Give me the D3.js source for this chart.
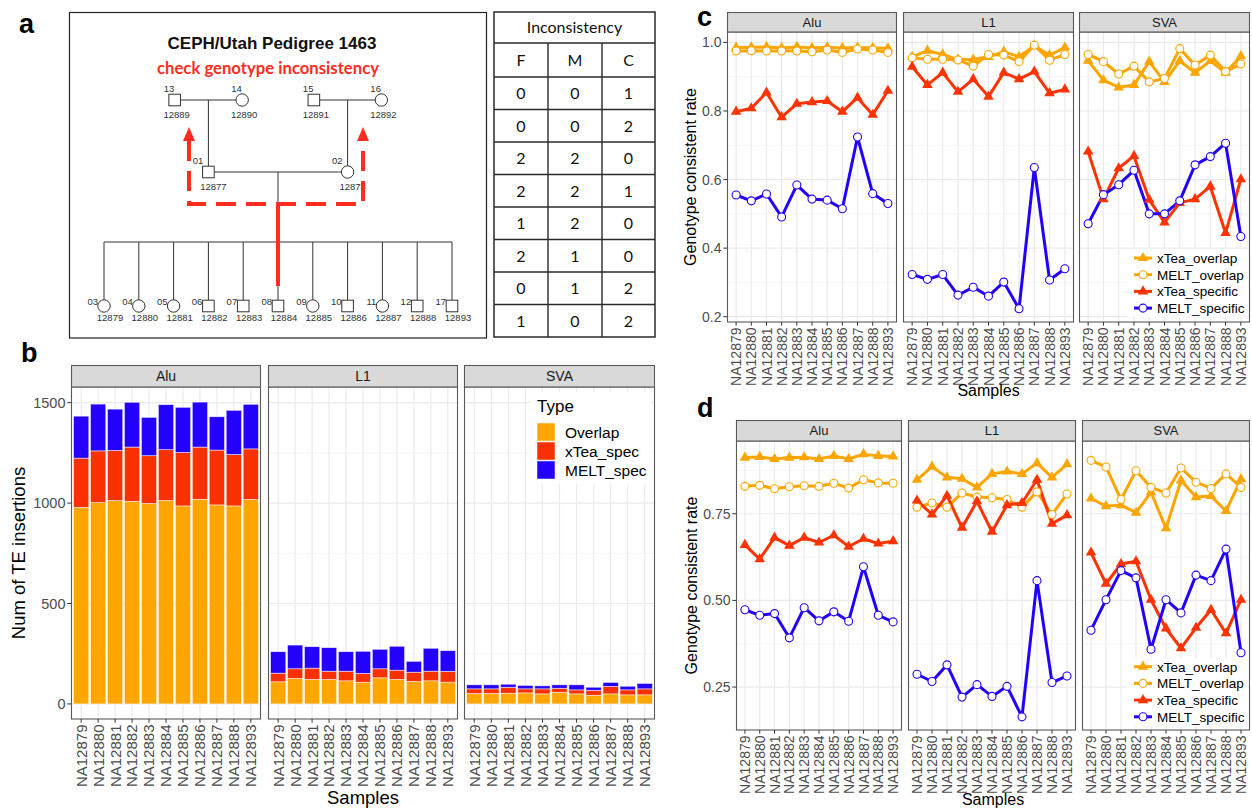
<!DOCTYPE html>
<html><head><meta charset="utf-8">
<script src="https://cdn.jsdelivr.net/npm/d3@7"></script>
<style>body{margin:0;background:#fff}svg{display:block}</style>
</head><body>
<script>
// ================= DATA =================
const samples = ["NA12879","NA12880","NA12881","NA12882","NA12883","NA12884","NA12885","NA12886","NA12887","NA12888","NA12893"];
const teTypes = ["Alu","L1","SVA"];
const countTypes = ["Overlap","xTea_spec","MELT_spec"];
const rateSeries = ["xTea_overlap","MELT_overlap","xTea_specific","MELT_specific"];
const countTicks = [0,500,1000,1500];
const rateTicksC = [0.2,0.4,0.6,0.8,1.0];
const rateTicksD = [0.25,0.50,0.75];

// panel b: number of TE insertions
const aluOverlap  = [979,1003,1013,1009,998,1013,986,1019,991,986,1018];
const aluXteaSpec = [245,257,249,270,238,253,266,260,273,256,252];
const aluMeltSpec = [209,233,206,223,191,224,225,224,166,220,222];
const l1Overlap   = [110,127,122,122,115,108,130,122,112,115,108];
const l1XteaSpec  = [43,48,56,41,48,44,45,46,46,48,54];
const l1MeltSpec  = [107,118,107,117,97,110,97,119,54,114,103];
const svaOverlap  = [52,52,53,55,50,58,50,43,50,45,45];
const svaXteaSpec = [23,23,30,20,25,20,20,25,37,25,30];
const svaMeltSpec = [20,20,15,17,15,17,25,15,20,18,27];

// panel c: genotype consistent rate
const cAluXteaOverlap = [0.985,0.986,0.987,0.984,0.987,0.984,0.986,0.984,0.985,0.984,0.983];
const cAluMeltOverlap = [0.975,0.976,0.975,0.975,0.975,0.973,0.978,0.971,0.981,0.978,0.971];
const cAluXteaSpecific = [0.798,0.808,0.854,0.782,0.821,0.826,0.829,0.798,0.839,0.789,0.859];
const cAluMeltSpecific = [0.555,0.538,0.558,0.491,0.584,0.543,0.540,0.515,0.724,0.559,0.530];
const cL1XteaOverlap = [0.958,0.976,0.965,0.950,0.950,0.958,0.973,0.958,0.990,0.963,0.985];
const cL1MeltOverlap = [0.955,0.951,0.951,0.949,0.931,0.965,0.963,0.944,0.992,0.948,0.965];
const cL1XteaSpecific = [0.929,0.876,0.912,0.856,0.893,0.842,0.912,0.893,0.915,0.852,0.863];
const cL1MeltSpecific = [0.323,0.309,0.323,0.263,0.286,0.260,0.301,0.223,0.635,0.307,0.340];
const cSvaXteaOverlap = [0.947,0.890,0.869,0.876,0.944,0.885,0.946,0.912,0.946,0.912,0.960];
const cSvaMeltOverlap = [0.965,0.944,0.908,0.931,0.885,0.895,0.982,0.934,0.963,0.915,0.937];
const cSvaXteaSpecific = [0.682,0.543,0.633,0.669,0.541,0.475,0.532,0.543,0.580,0.444,0.601];
const cSvaMeltSpecific = [0.471,0.556,0.585,0.627,0.500,0.500,0.538,0.643,0.667,0.706,0.434];

// panel d: genotype consistent rate
const dAluXteaOverlap = [0.912,0.914,0.908,0.912,0.913,0.908,0.917,0.908,0.922,0.917,0.915];
const dAluMeltOverlap = [0.829,0.832,0.822,0.828,0.831,0.829,0.838,0.824,0.848,0.839,0.838];
const dAluXteaSpecific = [0.660,0.619,0.681,0.658,0.681,0.667,0.688,0.655,0.678,0.664,0.671];
const dAluMeltSpecific = [0.473,0.457,0.462,0.392,0.479,0.441,0.467,0.440,0.597,0.457,0.438];
const dL1XteaOverlap = [0.848,0.886,0.855,0.851,0.826,0.865,0.872,0.865,0.896,0.855,0.893];
const dL1MeltOverlap = [0.769,0.781,0.769,0.810,0.798,0.796,0.791,0.769,0.813,0.748,0.807];
const dL1XteaSpecific = [0.788,0.748,0.802,0.710,0.786,0.698,0.775,0.781,0.848,0.721,0.746];
const dL1MeltSpecific = [0.287,0.266,0.314,0.221,0.257,0.223,0.252,0.164,0.557,0.263,0.282];
const dSvaXteaOverlap = [0.794,0.772,0.775,0.753,0.812,0.708,0.846,0.798,0.801,0.758,0.850];
const dSvaMeltOverlap = [0.904,0.885,0.791,0.874,0.826,0.810,0.882,0.841,0.823,0.865,0.826];
const dSvaXteaSpecific = [0.638,0.548,0.605,0.613,0.502,0.419,0.362,0.421,0.473,0.405,0.502];
const dSvaMeltSpecific = [0.414,0.502,0.586,0.565,0.359,0.502,0.464,0.573,0.557,0.648,0.349];

// panel a: pedigree and inconsistency table
const pedigreeTitle = "CEPH/Utah Pedigree 1463";
const pedigreeNote = "check genotype inconsistency";
const fatherSide = {ids:["13","14"], samples:["12889","12890"], sex:["M","F"]};
const motherSide = {ids:["15","16"], samples:["12891","12892"], sex:["M","F"]};
const parentIds = ["01","02"];
const parentSamples = ["12877","12878"];
const parentSex = ["M","F"];
const childIds = ["03","04","05","06","07","08","09","10","11","12","17"];
const childSamples = ["12879","12880","12881","12882","12883","12884","12885","12886","12887","12888","12893"];
const childSex = ["F","F","F","M","M","M","F","M","F","M","M"];
const tableTitle = "Inconsistency";
const tableCols = ["F","M","C"];
const tableF = [0,0,2,2,1,2,0,1];
const tableM = [0,0,2,2,2,1,1,0];
const tableC = [1,2,0,1,0,0,2,2];

// ================= SETUP =================
const W = 1252, H = 808;
const SANS = "'Liberation Sans', Arial, Helvetica, sans-serif";
const CAL = "Lato, 'Open Sans', sans-serif";
const svg = d3.select("body").append("svg").attr("width", W).attr("height", H)
  .attr("font-family", SANS);
svg.append("rect").attr("width", W).attr("height", H).attr("fill", "#fff");

const ORANGE = "#FFA500", RED = "#FF3300", BLUE = "#2200FF";
const countColor = d3.scaleOrdinal().domain(countTypes).range([ORANGE, "#F93100", "#2300FF"]);
const rateColor = d3.scaleOrdinal().domain(rateSeries).range([ORANGE, ORANGE, RED, BLUE]);
const rateShape = d3.scaleOrdinal().domain(rateSeries).range(["tri","circ","tri","circ"]);

// panel letters
[["a",19,33],["b",21,362],["c",697,26],["d",697,417]].forEach(([t,x,y]) =>
  svg.append("text").attr("x",x).attr("y",y).attr("font-size",27).attr("font-weight","bold").attr("fill","#000").text(t));

// ================= PANEL a =================
const ga = svg.append("g");
ga.append("rect").attr("x",69.5).attr("y",12.5).attr("width",417).attr("height",325.5)
  .attr("fill","none").attr("stroke","#222").attr("stroke-width",1.2);
ga.append("text").attr("x",272).attr("y",48.5).attr("text-anchor","middle")
  .attr("font-size",17).attr("font-weight","bold").attr("fill","#111").text(pedigreeTitle);
ga.append("text").attr("x",268).attr("y",74).attr("text-anchor","middle")
  .attr("font-family",CAL).attr("font-size",17).attr("font-weight","bold").attr("fill","#FF2D20")
  .attr("textLength",222).attr("lengthAdjust","spacingAndGlyphs").text(pedigreeNote);

const pedX = d3.scaleLinear().domain([0, childIds.length - 1]).range([104, 452]);
const pedY = d3.scaleOrdinal().domain([0,1,2]).range([100,172,306]);
const parentUnit = [3, 7];
const founderSpread = 0.97;
const LN = "#333";
function pline(x1,y1,x2,y2){ ga.append("line").attr("x1",x1).attr("y1",y1).attr("x2",x2).attr("y2",y2).attr("stroke",LN).attr("stroke-width",1); }
function psym(x,y,sex){
  if (sex === "M") ga.append("rect").attr("x",x-5.8).attr("y",y-5.8).attr("width",11.6).attr("height",11.6).attr("fill","#fff").attr("stroke",LN).attr("stroke-width",1);
  else ga.append("circle").attr("cx",x).attr("cy",y).attr("r",6.2).attr("fill","#fff").attr("stroke",LN).attr("stroke-width",1);
}
function plabel(x,y,t,anchor){ ga.append("text").attr("x",x).attr("y",y).attr("text-anchor",anchor).attr("font-size",9.5).attr("fill","#333").text(t); }

// founders
const founderGroups = [fatherSide, motherSide];
const founderNodes = [];
founderGroups.forEach((fg, k) => {
  const u = parentUnit[k];
  const xs = [pedX(u - founderSpread), pedX(u + founderSpread)];
  const y = pedY(0);
  pline(xs[0], y, xs[1], y);
  pline(pedX(u), y, pedX(u), pedY(1));
  fg.ids.forEach((id, j) => founderNodes.push({x: xs[j], y, id, sample: fg.samples[j], sex: fg.sex[j]}));
});
// parents
const pxs = parentUnit.map(u => pedX(u));
pline(pxs[0], pedY(1), pxs[1], pedY(1));
const sibY = 242;
const midP = (pxs[0] + pxs[1]) / 2;
pline(midP, pedY(1), midP, sibY);
pline(pedX(0), sibY, pedX(childIds.length - 1), sibY);
childIds.forEach((id, i) => pline(pedX(i), sibY, pedX(i), pedY(2) - 6));

founderNodes.forEach(n => { psym(n.x, n.y, n.sex); plabel(n.x - 11, n.y - 8, n.id, "start"); plabel(n.x + 2, n.y + 18, n.sample, "middle"); });
parentIds.forEach((id, j) => { const x = pxs[j], y = pedY(1); psym(x, y, parentSex[j]); plabel(x - 5, y - 8, id, "end"); plabel(x + 5, y + 18, parentSamples[j], "middle"); });
childIds.forEach((id, i) => { const x = pedX(i), y = pedY(2); psym(x, y, childSex[i]); plabel(x - 6, y - 1, id, "end"); plabel(x + 6, y + 15, childSamples[i], "middle"); });

// red consistency-check paths
const RC = "#FF2D20";
const lx = 189, rx = 363, hy = 204;
ga.append("path").attr("d", `M${lx},141 L${lx},${hy} L${rx},${hy} L${rx},141`)
  .attr("fill","none").attr("stroke",RC).attr("stroke-width",4).attr("stroke-dasharray","20 10");
ga.append("line").attr("x1",midP).attr("y1",hy).attr("x2",midP).attr("y2",286).attr("stroke",RC).attr("stroke-width",4);
[lx, rx].forEach(x => ga.append("path").attr("d", `M${x},127 L${x-6},141 L${x+6},141 Z`).attr("fill",RC));

// table
const gt = svg.append("g");
const tx0 = 494, tx1 = 655, colX = [494, 548, 602, 655];
const rowY = d3.range(tableF.length + 3).map(i => i === 0 ? 12 : (i === 1 ? 43 : 77 + (i - 2) * 32.5));
const tStroke = "#2a2a2a";
gt.append("rect").attr("x",tx0).attr("y",12).attr("width",tx1-tx0).attr("height",337-12).attr("fill","none").attr("stroke",tStroke).attr("stroke-width",1.5);
rowY.slice(1, -1).forEach(y => gt.append("line").attr("x1",tx0).attr("x2",tx1).attr("y1",y).attr("y2",y).attr("stroke",tStroke).attr("stroke-width",1.4));
[colX[1], colX[2]].forEach(x => gt.append("line").attr("x1",x).attr("x2",x).attr("y1",43).attr("y2",337).attr("stroke",tStroke).attr("stroke-width",1.4));
function ttext(x,y,t){ gt.append("text").attr("x",x).attr("y",y).attr("text-anchor","middle").attr("font-family",CAL).attr("font-size",16).attr("fill","#111").text(t); }
ttext((tx0+tx1)/2, 33, tableTitle);
const colC = [0,1,2].map(j => (colX[j] + colX[j+1]) / 2);
tableCols.forEach((c, j) => ttext(colC[j], 66, c));
[tableF, tableM, tableC].forEach((col, j) => col.forEach((v, i) => ttext(colC[j], (rowY[i+2] + rowY[i+3]) / 2 + 6, v)));

// ================= ggplot-like facet helpers =================
function minorBreaks(breaks) {
  const step = breaks[1] - breaks[0];
  const out = [];
  for (let i = -1; i < breaks.length; i++) out.push(breaks[0] + (i + 0.5) * step);
  return out;
}
function facet(P) {
  const g = svg.append("g");
  const dom = P.y.domain();
  const inDom = v => v >= Math.min(...dom) && v <= Math.max(...dom);
  P.panels.forEach(p => {
    p.x = d3.scaleLinear().domain([0.4, samples.length + 0.6]).range([p.x0, p.x1]);
    g.append("rect").attr("x",p.x0).attr("y",P.y0).attr("width",p.x1-p.x0).attr("height",P.y1-P.y0).attr("fill","#fff");
    minorBreaks(P.breaks).filter(inDom).forEach(v => g.append("line").attr("x1",p.x0).attr("x2",p.x1).attr("y1",P.y(v)).attr("y2",P.y(v)).attr("stroke","#F2F2F2").attr("stroke-width",0.7));
    P.breaks.filter(inDom).forEach(v => g.append("line").attr("x1",p.x0).attr("x2",p.x1).attr("y1",P.y(v)).attr("y2",P.y(v)).attr("stroke","#EBEBEB").attr("stroke-width",1.2));
    samples.forEach((s, i) => g.append("line").attr("x1",p.x(i+1)).attr("x2",p.x(i+1)).attr("y1",P.y0).attr("y2",P.y1).attr("stroke","#EBEBEB").attr("stroke-width",1.2));
  });
  return g;
}
function facetFrame(P) {
  const g = svg.append("g");
  const dom = P.y.domain();
  const inDom = v => v >= Math.min(...dom) && v <= Math.max(...dom);
  P.panels.forEach((p, k) => {
    g.append("rect").attr("x",p.x0+0.5).attr("y",P.y0).attr("width",p.x1-p.x0-1).attr("height",P.y1-P.y0).attr("fill","none").attr("stroke","#595959").attr("stroke-width",1.1);
    g.append("rect").attr("x",p.x0+0.5).attr("y",P.stripTop+0.5).attr("width",p.x1-p.x0-1).attr("height",P.y0-P.stripTop-0.5).attr("fill","#D9D9D9").attr("stroke","#595959").attr("stroke-width",1.1);
    g.append("text").attr("x",(p.x0+p.x1)/2).attr("y",(P.stripTop+P.y0)/2).attr("dy","0.36em").attr("text-anchor","middle")
      .attr("font-size",P.stripFont).attr("fill","#1A1A1A").text(p.name);
    samples.forEach((s, i) => {
      const x = p.x(i+1);
      g.append("line").attr("x1",x).attr("x2",x).attr("y1",P.y1).attr("y2",P.y1+3.7).attr("stroke","#333").attr("stroke-width",1);
      g.append("text").attr("transform",`translate(${x},${P.y1+5.5}) rotate(-90)`).attr("text-anchor","end").attr("dy","0.36em")
        .attr("font-size",P.xFont).attr("fill","#4D4D4D").text(s);
    });
    if (k === 0) {
      P.breaks.filter(inDom).forEach(v => {
        g.append("line").attr("x1",p.x0-3.7).attr("x2",p.x0).attr("y1",P.y(v)).attr("y2",P.y(v)).attr("stroke","#333").attr("stroke-width",1);
        g.append("text").attr("x",p.x0-5.5).attr("y",P.y(v)).attr("dy","0.36em").attr("text-anchor","end")
          .attr("font-size",P.yFont).attr("fill","#4D4D4D").text(P.fmt(v));
      });
    }
  });
  const first = P.panels[0], last = P.panels[P.panels.length-1];
  g.append("text").attr("transform",`translate(${P.yTitleX},${(P.y0+P.y1)/2}) rotate(-90)`).attr("text-anchor","middle")
    .attr("font-size",P.titleFont).attr("fill","#000").text(P.yTitle);
  g.append("text").attr("x",(first.x0+last.x1)/2).attr("y",P.xTitleY).attr("text-anchor","middle")
    .attr("font-size",P.titleFont).attr("fill","#000").text("Samples");
}

// ================= PANEL b =================
const countTable = {
  Alu: {Overlap: aluOverlap, xTea_spec: aluXteaSpec, MELT_spec: aluMeltSpec},
  L1:  {Overlap: l1Overlap,  xTea_spec: l1XteaSpec,  MELT_spec: l1MeltSpec},
  SVA: {Overlap: svaOverlap, xTea_spec: svaXteaSpec, MELT_spec: svaMeltSpec}
};
const stacks = {};
teTypes.forEach(t => {
  const rows = samples.map((s, i) => { const r = {sample: s}; countTypes.forEach(c => r[c] = countTable[t][c][i]); return r; });
  stacks[t] = d3.stack().keys(countTypes)(rows);
});
const maxCount = d3.max(teTypes, t => d3.max(stacks[t][countTypes.length-1], d => d[1]));
const yb = d3.scaleLinear().domain([-0.05 * maxCount, maxCount * 1.05]).range([719, 387]);
const Pb = {panels: [{name:"Alu",x0:71,x1:261},{name:"L1",x0:268,x1:458},{name:"SVA",x0:464,x1:655}],
  y0:387, y1:719, stripTop:365, y:yb, breaks:countTicks, fmt:d3.format("d"),
  xFont:15, yFont:14.5, stripFont:14, titleFont:18.5, yTitle:"Num of TE insertions", yTitleX:25, xTitleY:804};
const gb = facet(Pb);
Pb.panels.forEach(p => {
  stacks[p.name].forEach(layer => {
    gb.append("g").selectAll("rect").data(layer).join("rect")
      .attr("x", (d, i) => p.x(i + 1 - 0.45)).attr("width", p.x(1.45) - p.x(0.55))
      .attr("y", d => yb(d[1])).attr("height", d => yb(d[0]) - yb(d[1]))
      .attr("fill", countColor(layer.key)).attr("stroke","#fff").attr("stroke-width",0.7).attr("stroke-opacity",0.7);
  });
});
// legend b
const lgB = svg.append("g");
lgB.append("rect").attr("x",531).attr("y",392).attr("width",120).attr("height",92).attr("fill","#fff");
lgB.append("text").attr("x",537).attr("y",412).attr("font-size",17).attr("fill","#000").text("Type");
countTypes.forEach((c, i) => {
  const y = 423 + i * 19;
  lgB.append("rect").attr("x",537).attr("y",y).attr("width",18).attr("height",18).attr("fill",countColor(c)).attr("stroke","#fff").attr("stroke-width",0.7).attr("stroke-opacity",0.7);
  lgB.append("text").attr("x",565).attr("y",y+9).attr("dy","0.36em").attr("font-size",15.5).attr("fill","#000").text(c);
});
facetFrame(Pb);

// ================= PANELS c and d =================
function rateTable(arrs) { const o = {}; rateSeries.forEach((s, i) => o[s] = arrs[i]); return o; }
const rateC = {
  Alu: rateTable([cAluXteaOverlap, cAluMeltOverlap, cAluXteaSpecific, cAluMeltSpecific]),
  L1:  rateTable([cL1XteaOverlap, cL1MeltOverlap, cL1XteaSpecific, cL1MeltSpecific]),
  SVA: rateTable([cSvaXteaOverlap, cSvaMeltOverlap, cSvaXteaSpecific, cSvaMeltSpecific])
};
const rateD = {
  Alu: rateTable([dAluXteaOverlap, dAluMeltOverlap, dAluXteaSpecific, dAluMeltSpecific]),
  L1:  rateTable([dL1XteaOverlap, dL1MeltOverlap, dL1XteaSpecific, dL1MeltSpecific]),
  SVA: rateTable([dSvaXteaOverlap, dSvaMeltOverlap, dSvaXteaSpecific, dSvaMeltSpecific])
};
function expandDomain(tbl) {
  const all = teTypes.flatMap(t => rateSeries.flatMap(s => tbl[t][s]));
  const lo = d3.min(all), hi = d3.max(all), pad = (hi - lo) * 0.05;
  return [lo - pad, hi + pad];
}
const triSym = d3.symbol().type(d3.symbolTriangle).size(48);
function drawPoint(g, x, y, s) {
  const col = rateColor(s);
  if (rateShape(s) === "tri") g.append("path").attr("d", triSym()).attr("transform",`translate(${x},${y})`).attr("fill",col);
  else g.append("circle").attr("cx",x).attr("cy",y).attr("r",4).attr("fill","#fff").attr("stroke",col).attr("stroke-width",1.1);
}
function ratePanel(P, tbl, legendY) {
  const g = facet(P);
  P.panels.forEach(p => {
    rateSeries.forEach(s => {
      const line = d3.line().x((d, i) => p.x(i + 1)).y(d => P.y(d));
      g.append("path").attr("d", line(tbl[p.name][s])).attr("fill","none").attr("stroke",rateColor(s))
        .attr("stroke-width",3).attr("stroke-linejoin","round");
    });
    rateSeries.forEach(s => tbl[p.name][s].forEach((v, i) => drawPoint(g, p.x(i + 1), P.y(v), s)));
  });
  const lg = svg.append("g");
  lg.append("rect").attr("x",1127).attr("y",legendY - 9).attr("width",120).attr("height",68).attr("fill","#fff");
  rateSeries.forEach((s, i) => {
    const y = legendY + i * 16.7;
    lg.append("line").attr("x1",1134).attr("x2",1152).attr("y1",y).attr("y2",y).attr("stroke",rateColor(s)).attr("stroke-width",3);
    drawPoint(lg, 1143, y, s);
    lg.append("text").attr("x",1157).attr("y",y).attr("dy","0.36em").attr("font-size",13.5).attr("fill","#000").text(s);
  });
  facetFrame(P);
}
const Pc = {panels: [{name:"Alu",x0:727,x1:897},{name:"L1",x0:903,x1:1074},{name:"SVA",x0:1079,x1:1250}],
  y0:32, y1:322, stripTop:12, y:d3.scaleLinear().domain(expandDomain(rateC)).range([322, 32]),
  breaks:rateTicksC, fmt:d3.format(".1f"), xFont:14, yFont:14, stripFont:13, titleFont:16,
  yTitle:"Genotype consistent rate", yTitleX:695.5, xTitleY:395.5};
ratePanel(Pc, rateC, 258);
const Pd = {panels: [{name:"Alu",x0:736,x1:902},{name:"L1",x0:908,x1:1076},{name:"SVA",x0:1082,x1:1250}],
  y0:441, y1:730, stripTop:420, y:d3.scaleLinear().domain(expandDomain(rateD)).range([730, 441]),
  breaks:rateTicksD, fmt:d3.format(".2f"), xFont:14, yFont:14, stripFont:13, titleFont:16,
  yTitle:"Genotype consistent rate", yTitleX:696.5, xTitleY:804.5};
ratePanel(Pd, rateD, 666.7);
</script>
</body></html>
